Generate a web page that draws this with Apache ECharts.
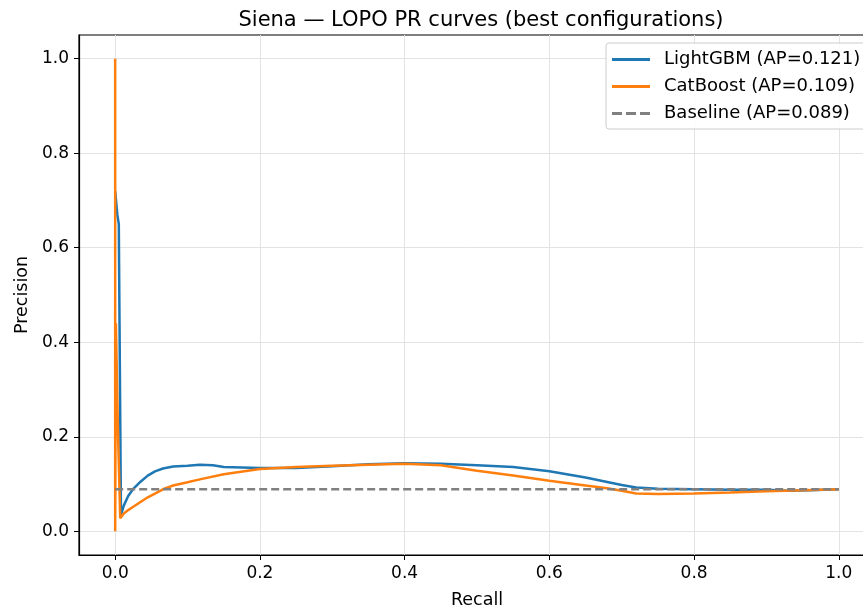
<!DOCTYPE html>
<html>
<head>
<meta charset="utf-8">
<script src="https://cdn.jsdelivr.net/npm/echarts@6/dist/echarts.min.js"></script>
<style>
  html, body { margin: 0; padding: 0; background: #fff; }
  #chart { width: 863px; height: 613px; }
</style>
</head>
<body>
<div id="chart"></div>
<script>
// LightGBM PR curve
const lgbmRecall = [0, 0.003, 0.005, 0.006, 0.008, 0.012, 0.018, 0.025, 0.035, 0.045, 0.055, 0.066, 0.08, 0.1, 0.117, 0.135, 0.15, 0.175, 0.2, 0.25, 0.3, 0.35, 0.4, 0.45, 0.5, 0.55, 0.6, 0.65, 0.7, 0.72, 0.75, 0.8, 0.85, 0.9, 0.93, 0.96, 1.0]
const lgbmPrecision = [0.72, 0.67, 0.65, 0.44, 0.035, 0.055, 0.075, 0.09, 0.105, 0.118, 0.127, 0.133, 0.137, 0.139, 0.141, 0.14, 0.136, 0.135, 0.134, 0.134, 0.138, 0.142, 0.144, 0.143, 0.14, 0.136, 0.127, 0.114, 0.098, 0.093, 0.09, 0.089, 0.088, 0.088, 0.086, 0.087, 0.089]

// CatBoost PR curve
const cbRecall = [0, 0, 0.001, 0.004, 0.007, 0.012, 0.018, 0.025, 0.035, 0.045, 0.055, 0.066, 0.08, 0.1, 0.117, 0.15, 0.2, 0.25, 0.3, 0.35, 0.4, 0.45, 0.5, 0.55, 0.6, 0.65, 0.68, 0.7, 0.72, 0.75, 0.8, 0.85, 0.9, 0.95, 1.0]
const cbPrecision = [1.0, 0.0, 0.44, 0.2, 0.028, 0.038, 0.045, 0.052, 0.062, 0.072, 0.08, 0.089, 0.097, 0.104, 0.11, 0.121, 0.132, 0.136, 0.139, 0.141, 0.143, 0.14, 0.128, 0.118, 0.107, 0.097, 0.091, 0.086, 0.08, 0.079, 0.08, 0.082, 0.085, 0.087, 0.089]

const baselineRecall = [0, 1]
const baselinePrecision = [0.089, 0.089]

const tickValues = [0, 0.2, 0.4, 0.6, 0.8, 1.0]

const pairs = (xs, ys) => xs.map((x, i) => [x, ys[i]])
const font = "DejaVu Sans"

// legend glyphs: plain line, and a dashed one for the baseline
const solidIcon = "path://M0,0h38v3h-38z"
const dashedIcon = "path://M0,0h10v3h-10z M14,0h10v3h-10z M28,0h10v3h-10z"

const axisCommon = {
  type: "value",
  min: -0.05,
  max: 1.05,
  axisLine: {show: true, onZero: false, lineStyle: {color: "#000", width: 1.2}},
  axisTick: {show: true, length: 5, customValues: tickValues, lineStyle: {color: "#000"}},
  axisLabel: {customValues: tickValues, color: "#000", fontSize: 17, fontFamily: font, margin: 10, formatter: v => v.toFixed(1)},
  splitLine: {show: true, lineStyle: {color: "#e3e3e3", width: 1}},
  nameLocation: "middle",
  nameTextStyle: {color: "#000", fontSize: 17.5, fontFamily: font},
}

const chart = echarts.init(document.getElementById("chart"), null, {renderer: "canvas"})

chart.setOption({
  animation: false,
  backgroundColor: "#fff",
  title: {
    text: "Siena — LOPO PR curves (best configurations)",
    left: 476,
    textAlign: "center",
    top: 5,
    textStyle: {color: "#000", fontSize: 21, fontWeight: "normal", fontFamily: font},
  },
  // the figure is cropped on the right: the plot box runs past the window
  grid: {
    left: 79, top: 35, width: 796, height: 520,
    outerBoundsMode: "none", containLabel: false,
    show: true, borderColor: "#000", borderWidth: 1.2,
  },
  xAxis: {...axisCommon, name: "Recall", nameGap: 36},
  yAxis: {...axisCommon, name: "Precision", nameGap: 48},
  legend: {
    left: 606,
    top: 43,
    orient: "vertical",
    itemWidth: 38,
    itemHeight: 3,
    itemGap: 8,
    padding: [7, 8, 6, 6],
    backgroundColor: "rgba(255,255,255,0.85)",
    borderColor: "#cccccc",
    borderWidth: 1,
    borderRadius: 3,
    textStyle: {color: "#000", fontSize: 18, fontFamily: font, lineHeight: 19, padding: [0, 0, 0, 9]},
    data: [
      {name: "LightGBM (AP=0.121)", icon: solidIcon},
      {name: "CatBoost (AP=0.109)", icon: solidIcon},
      {name: "Baseline (AP=0.089)", icon: dashedIcon},
    ],
  },
  series: [
    {
      name: "LightGBM (AP=0.121)",
      type: "line",
      data: pairs(lgbmRecall, lgbmPrecision),
      symbol: "none",
      lineStyle: {color: "#1f77b4", width: 2.5},
      itemStyle: {color: "#1f77b4"},
    },
    {
      name: "CatBoost (AP=0.109)",
      type: "line",
      data: pairs(cbRecall, cbPrecision),
      symbol: "none",
      lineStyle: {color: "#ff7f0e", width: 2.5},
      itemStyle: {color: "#ff7f0e"},
    },
    {
      name: "Baseline (AP=0.089)",
      type: "line",
      data: pairs(baselineRecall, baselinePrecision),
      symbol: "none",
      lineStyle: {color: "#808080", width: 2.5, type: [8, 4]},
      itemStyle: {color: "#808080"},
    },
  ],
})
</script>
</body>
</html>
